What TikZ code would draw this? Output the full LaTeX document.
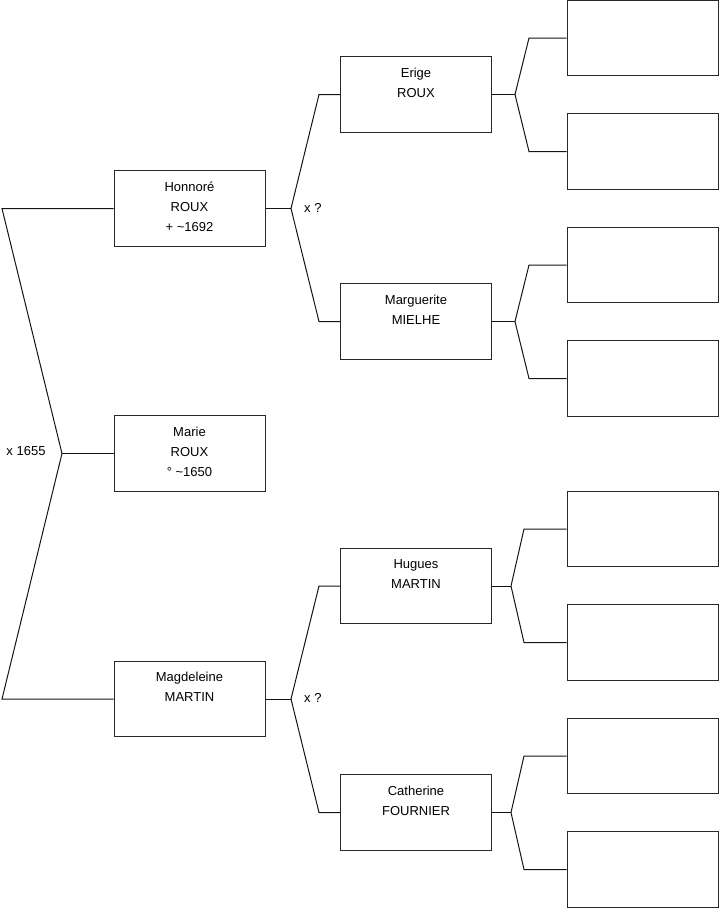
\documentclass[tikz,border=0pt]{standalone}
\usepackage{fontspec}
\setmainfont{Liberation Sans}
\usepackage{xcolor}
\usepackage{tikz}
\usetikzlibrary{calc,positioning}
\definecolor{treeLine}{RGB}{20,20,20}
\definecolor{boxLine}{RGB}{40,40,40}
\definecolor{treeText}{RGB}{0,0,0}
\newcommand{\lift}{\\[-16pt]\mbox{}}

\begin{document}
\begin{tikzpicture}[x=1pt,y=-1pt,
  pbox/.style={draw=boxLine, line width=1pt, minimum width=151pt, minimum height=75.5pt,
    inner sep=0pt, align=center, text=treeText,
    font=\fontsize{13}{20}\selectfont},
  link/.style={draw=treeLine, line width=1pt},
  tag/.style={text=treeText, inner sep=0pt, font=\fontsize{13}{15}\selectfont}]
\useasboundingbox (0,0) rectangle (719,908);
\node[pbox] (marie) at (189.5,453.5) {Marie\\ROUX\\° \textasciitilde1650\lift};
\node[pbox] (honnore) at (189.5,208.5) {Honnoré\\ROUX\\+ \textasciitilde1692\lift};
\node[pbox] (magdeleine) at (189.5,699) {Magdeleine\\MARTIN\\\mbox{}\lift};
\node[pbox] (erige) at (416,94.5) {Erige\\ROUX\\\mbox{}\lift};
\node[pbox] (marguerite) at (416,321.5) {Marguerite\\MIELHE\\\mbox{}\lift};
\node[pbox] (hugues) at (416,586) {Hugues\\MARTIN\\\mbox{}\lift};
\node[pbox] (catherine) at (416,812.5) {Catherine\\FOURNIER\\\mbox{}\lift};
\foreach \n/\y in {a1/38,a2/151.5,b1/265,b2/378.5,c1/529,c2/642.5,d1/756,d2/869.5}
  \node[pbox] (anc\n) at (642.5,\y) {};
% forks
\coordinate (fmarie) at (62,453.5);
\coordinate (fhonnore) at (291,208.5);
\coordinate (fmagdeleine) at (291,699);
\coordinate (ferige) at (515,94.5);
\coordinate (fmarguerite) at (515,321.5);
\coordinate (fhugues) at (511,586);
\coordinate (fcatherine) at (511,812.5);
\draw[link] (marie.west) -- (fmarie);
\draw[link] (fmarie) -- (2,208.5) -- (honnore.west);
\draw[link] (fmarie) -- (2,699) -- (magdeleine.west);
\node[tag] (mar1) at (26,451.5) {x 1655};
\draw[link] (honnore.east) -- (fhonnore);
\draw[link] (fhonnore) -- (319,94.5) -- (erige.west);
\draw[link] (fhonnore) -- (319,321.5) -- (marguerite.west);
\node[tag, anchor=west] (mar2) at (304,207.5) {x ?};
\draw[link] (magdeleine.east) -- (fmagdeleine);
\draw[link] (fmagdeleine) -- (319,586) -- (hugues.west);
\draw[link] (fmagdeleine) -- (319,812.5) -- (catherine.west);
\node[tag, anchor=west] (mar3) at (304,698) {x ?};
\draw[link] (erige.east) -- (ferige);
\draw[link] (ferige) -- (529,38) -- (anca1.west);
\draw[link] (ferige) -- (529,151.5) -- (anca2.west);
\draw[link] (marguerite.east) -- (fmarguerite);
\draw[link] (fmarguerite) -- (529,265) -- (ancb1.west);
\draw[link] (fmarguerite) -- (529,378.5) -- (ancb2.west);
\draw[link] (hugues.east) -- (fhugues);
\draw[link] (fhugues) -- (524,529) -- (ancc1.west);
\draw[link] (fhugues) -- (524,642.5) -- (ancc2.west);
\draw[link] (catherine.east) -- (fcatherine);
\draw[link] (fcatherine) -- (524,756) -- (ancd1.west);
\draw[link] (fcatherine) -- (524,869.5) -- (ancd2.west);
\end{tikzpicture}
\end{document}
